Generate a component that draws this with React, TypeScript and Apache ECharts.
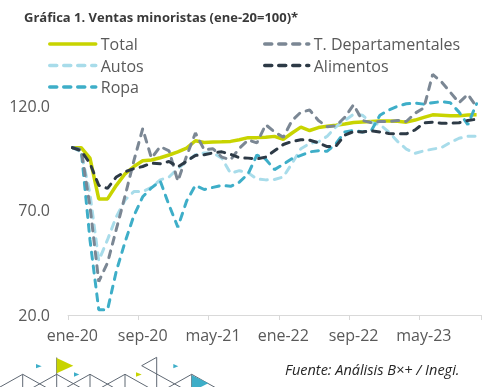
import React, { useEffect, useRef } from "react";
import * as echarts from "echarts";

const months = ["ene", "feb", "mar", "abr", "may", "jun", "jul", "ago", "sep", "oct", "nov", "dic"];
const categories: string[] = [];
for (let y = 20; y <= 23; y++) {
  for (let m = 0; m < 12; m++) {
    if (y === 23 && m > 10) break;
    categories.push(`${months[m]}-${y}`);
  }
}

const total = [
  100, 100, 95, 75.5, 75.5, 82, 87.5, 91, 93.7, 94.1, 95.2, 96.5,
  98, 99.8, 103.3, 102.5, 102.7, 102.8, 103, 103.8, 104.8, 104.8, 105, 105.4,
  104, 107, 109.8, 108.2, 109.6, 110.2, 110.7, 111.3, 112, 112.3, 112.5, 112.7,
  112.8, 112.6, 112.2, 113.2, 114.5, 115.7, 115.5, 115.3, 115.2, 115.6, 115.7,
];
const departamentales = [
  100, 99, 72, 36, 45, 61, 77, 93.8, 109, 95, 100.5, 98.5,
  84, 96, 107, 99, 99.5, 95.5, 94.2, 99.7, 103.7, 102.3, 111, 107.5,
  105, 113, 117, 118, 113, 110, 110.5, 114.5, 120.5, 113, 112, 112.5,
  112.5, 113, 112.5, 116.5, 119, 135, 131.5, 126.5, 121.5, 125.5, 119.5,
];
const autos = [
  100, 98, 78, 46, 56, 67, 75, 79, 79, 81, 84.6, 86,
  90, 93.4, 96.6, 97.5, 97.5, 95, 87.8, 89, 88, 85, 84.6, 84.8,
  86, 92.5, 99.5, 102, 102.8, 105.5, 110, 113, 116, 115.5, 112, 111,
  107.5, 103, 99.3, 97.3, 98.5, 99.3, 100, 102.5, 104.5, 105.5, 105.4,
];
const alimentos = [
  100, 98.5, 92.5, 82, 80.5, 86, 88.5, 90, 91, 92.6, 92.3, 93.4,
  90.8, 93.5, 96.3, 96.6, 97.5, 98, 96.8, 95.2, 95, 94.6, 95.5, 98.5,
  101.5, 103, 103.8, 103.6, 102.3, 100.5, 100.8, 106, 107.7, 107.5, 108, 107.5,
  106.8, 106.6, 106.6, 108.5, 111.8, 112.2, 111.7, 111.7, 111.9, 113, 113.6,
];
const ropa = [
  100, 99, 56, 22.5, 22.5, 41, 55, 67.5, 76.5, 80.8, 84, 72.5,
  62, 74.5, 82, 80, 81, 82, 81.5, 83.5, 87.5, 96.5, 94.5, 89.5,
  92, 94.8, 96.3, 98, 98.5, 98.3, 102, 107.5, 108.3, 107.5, 108, 115.5,
  118, 119.8, 121, 121.3, 120.8, 121.5, 122, 121.5, 117, 111, 121,
];

const yMin = 20;
const yMax = 140;
const yStep = 50;

const C_TOTAL = "#c8d400";
const C_DEP = "#7b8794";
const C_AUTOS = "#a8dcea";
const C_ALIM = "#2d3a46";
const C_ROPA = "#3eaec8";
const FONT = "'Open Sans', sans-serif";

export default function App() {
  const ref = useRef<HTMLDivElement>(null);
  useEffect(() => {
    if (!ref.current) return;
    const chart = echarts.init(ref.current, null, { renderer: "svg" });
    const dashed = (name: string, color: string, data: number[]) => ({
      name,
      type: "line",
      data,
      symbol: "none",
      lineStyle: { color, width: 3, type: [7, 7], cap: "round" },
      itemStyle: { color },
    });
    const gray = "#5f6873";
    const tri = (x: number) => ({
      type: "polyline",
      shape: { points: [[x - 28, 390], [x, 374.3], [x + 28, 390]] },
      style: { stroke: gray, lineWidth: 1, fill: null },
    });
    const vline = (x: number, y: number) => ({
      type: "line",
      shape: { x1: x, y1: y, x2: x, y2: 390 },
      style: { stroke: gray, lineWidth: 1 },
    });
    const flag = (x: number, y: number, w: number, h: number, color: string) => ({
      type: "polygon",
      shape: { points: [[x, y], [x + w, y + h / 2], [x, y + h]] },
      style: { fill: color },
    });
    const legendBase = {
      top: 36,
      padding: 0,
      orient: "vertical",
      itemHeight: 14,
      itemGap: 5.5,
      selectedMode: false,
      itemStyle: { opacity: 0 },
      lineStyle: { width: 3.5, cap: "round" },
      textStyle: { fontSize: 16, color: "#595959", lineHeight: 16, fontFamily: FONT },
    };
    chart.setOption({
      animation: false,
      textStyle: { fontFamily: FONT },
      grid: { left: 68, right: 6, top: 64, bottom: 72, containLabel: false },
      legend: [
        { ...legendBase, left: 48, itemWidth: 46, data: ["Total", "Autos", "Ropa"] },
        { ...legendBase, left: 263, itemWidth: 44, data: ["T. Departamentales", "Alimentos"] },
      ],
      xAxis: {
        type: "category",
        data: categories,
        boundaryGap: true,
        axisLine: { lineStyle: { color: "#d9d9d9", width: 1 } },
        axisTick: { show: true, interval: 7, length: 5, lineStyle: { color: "#d9d9d9" } },
        axisLabel: { interval: 7, fontSize: 16, color: "#595959", margin: 12, fontFamily: FONT },
        splitLine: { show: false },
      },
      yAxis: {
        type: "value",
        min: yMin,
        max: yMax,
        interval: yStep,
        axisLine: { show: false },
        axisTick: { show: false },
        splitLine: { show: false },
        axisLabel: {
          fontSize: 16,
          color: "#595959",
          margin: 18,
          fontFamily: FONT,
          formatter: (v: number) => ((v - yMin) % yStep === 0 ? v.toFixed(1) : ""),
        },
      },
      series: [
        {
          name: "Total",
          type: "line",
          data: total,
          symbol: "none",
          lineStyle: { color: C_TOTAL, width: 3.5 },
          itemStyle: { color: C_TOTAL },
        },
        dashed("Autos", C_AUTOS, autos),
        dashed("Ropa", C_ROPA, ropa),
        dashed("T. Departamentales", C_DEP, departamentales),
        dashed("Alimentos", C_ALIM, alimentos),
      ],
      graphic: [
        {
          type: "text",
          x: 24,
          y: 10,
          style: {
            text: "Gráfica 1. Ventas minoristas (ene-20=100)*",
            font: `bold 13px ${FONT}`,
            fill: "#3a3a3a",
          },
        },
        {
          type: "text",
          x: 285,
          y: 362,
          style: {
            text: "Fuente: Análisis B×+ / Inegi.",
            font: `italic 14.5px ${FONT}`,
            fill: "#262626",
          },
        },
        tri(22.7),
        tri(56.7),
        tri(90),
        tri(125),
        tri(191.7),
        vline(22.7, 374.3),
        vline(56.7, 357.5),
        vline(90, 374.3),
        vline(125, 374.3),
        vline(156.7, 357.3),
        vline(191.7, 374.3),
        {
          type: "polyline",
          shape: { points: [[156.7, 357.3], [141.7, 365.7], [182, 388]] },
          style: { stroke: gray, lineWidth: 1, fill: null },
        },
        flag(56.7, 358, 16.6, 15.3, C_TOTAL),
        flag(36, 364, 5.7, 4.3, C_ROPA),
        flag(74, 372.3, 5.3, 4.4, C_ROPA),
        flag(136, 372.3, 5.7, 4.4, C_TOTAL),
        flag(173.3, 364, 5, 4.3, C_ROPA),
        flag(191.7, 375, 16.6, 16.6, C_ROPA),
      ],
    });
    return () => chart.dispose();
  }, []);
  return (
    <div
      ref={ref}
      style={{ position: "fixed", left: 0, top: 0, width: 487, height: 387 }}
    />
  );
}
